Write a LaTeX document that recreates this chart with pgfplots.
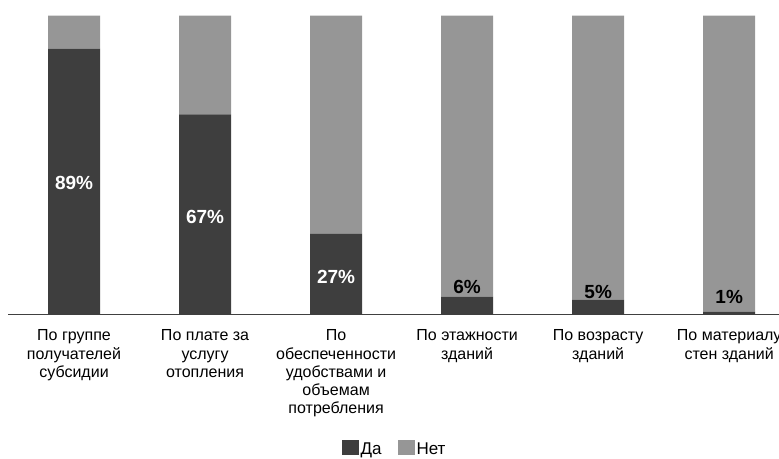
\documentclass[border=0pt]{standalone}
\usepackage{pgfplots}
\pgfplotsset{compat=1.18}
\usepackage{fontspec}
\setmainfont{Liberation Sans}
\definecolor{dark}{HTML}{3E3E3E}
\definecolor{light}{HTML}{969696}
\definecolor{axisline}{HTML}{404040}
\begin{document}
\begin{tikzpicture}
\begin{axis}[name=main, scale only axis, width=770.5pt, height=298.8pt,
  xmin=-0.5, xmax=5.38, ymin=0, ymax=100,
  ybar stacked, bar width=52pt,
  axis x line=bottom, axis y line=none, ytick=\empty,
  x axis line style={-, line width=1.5pt, color=axisline},
  xtick={0,1,2,3,4,5},
  xticklabels={{По группе\\получателей\\субсидии},{По плате за\\услугу\\отопления},{По\\обеспеченности\\удобствами и\\объемам\\потребления},{По этажности\\зданий},{По возрасту\\зданий},{По материалу\\стен зданий}},
  major tick length=0pt,
  xticklabel style={font=\fontsize{16}{18.3}\selectfont, align=center, anchor=north, inner sep=0pt, yshift=-15pt},
  legend columns=2,
  legend style={at={(0.501,0)}, anchor=center, yshift=-134.5pt, draw=none, fill=none,
    font=\fontsize{17}{19}\selectfont, inner sep=0pt,
    nodes={inner xsep=2pt},
    /tikz/every even column/.append style={column sep=14pt}},
  legend image code/.code={\fill[#1] (0pt,-5.5pt) rectangle (17pt,9.5pt);},
  clip=false]
\addplot[fill=dark, draw=none] coordinates {(0,89) (1,67) (2,27) (3,6) (4,5) (5,1)};
\addplot[fill=light, draw=none] coordinates {(0,11) (1,33) (2,73) (3,94) (4,95) (5,99)};
\legend{Да, Нет}
\end{axis}
\begin{axis}[at={(main.south west)}, anchor=south west, scale only axis,
  width=770.5pt, height=298.8pt, xmin=-0.5, xmax=5.38, ymin=0, ymax=100,
  hide axis, clip=false]
\addplot[draw=none, mark=none, nodes near coords, point meta=explicit symbolic,
  nodes near coords style={font=\fontsize{19}{22}\selectfont\bfseries, text=white, anchor=center}]
  coordinates {(0,44.1)[89\%] (1,32.7)[67\%] (2,12.6)[27\%]};
\addplot[draw=none, mark=none, nodes near coords, point meta=explicit symbolic,
  nodes near coords style={font=\fontsize{19}{22}\selectfont\bfseries, text=black, anchor=center}]
  coordinates {(3,9.2)[6\%] (4,7.55)[5\%] (5,5.9)[1\%]};
\end{axis}
\pgfresetboundingbox
\path[use as bounding box] ([shift={(-8.5pt,-143.5pt)}]main.south west) rectangle ([shift={(0pt,15.7pt)}]main.north east);
\end{tikzpicture}
\end{document}
